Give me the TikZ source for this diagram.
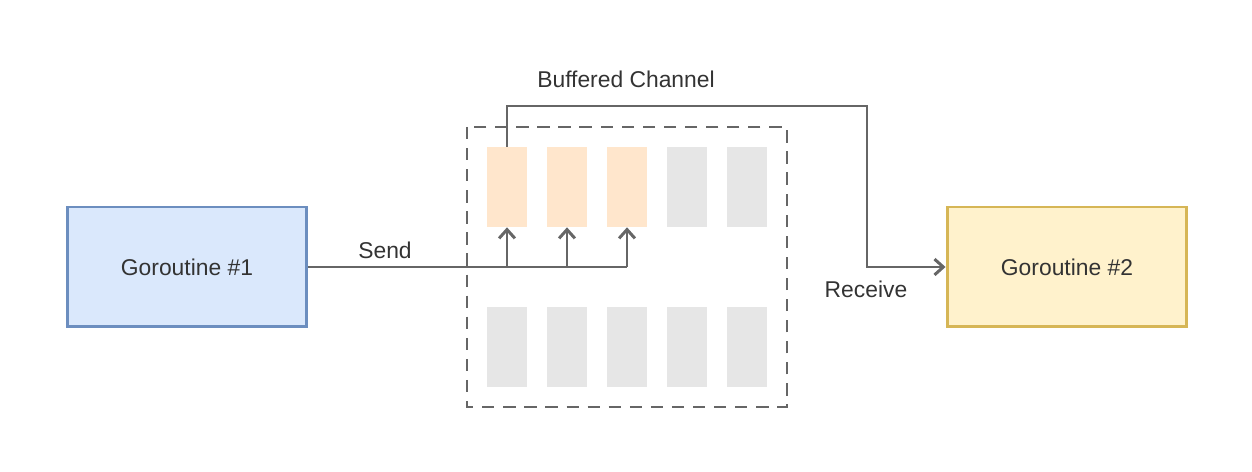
\documentclass[tikz,border=0pt]{standalone}
\usepackage{fontspec}
\setmainfont{Liberation Sans}
\usetikzlibrary{positioning,arrows.meta}
\definecolor{lineg}{HTML}{666666}
\definecolor{blueF}{HTML}{DAE8FC}
\definecolor{blueD}{HTML}{6C8EBF}
\definecolor{yelF}{HTML}{FFF2CC}
\definecolor{yelD}{HTML}{D6B656}
\definecolor{orgF}{HTML}{FFE6CC}
\definecolor{cellG}{HTML}{E6E6E6}
\begin{document}
\begin{tikzpicture}[x=0.02cm, y=-0.02cm,
      gor/.style={rectangle, line width=1.7pt, minimum width=4.8cm, minimum height=2.4cm, font=\fontsize{13}{15}\selectfont, text=black!80},
      cell/.style={rectangle, draw=none, minimum width=0.8cm, minimum height=1.6cm, inner sep=0pt},
      pfeil/.style={line width=1.7pt, draw=lineg, -{Straight Barb[length=5pt,width=9pt]}},
      lab/.style={font=\fontsize{13}{15}\selectfont, text=black!80}]
\useasboundingbox (0,0) rectangle (1252,472);

\node[gor, fill=blueF, draw=blueD] (g1) at (187,267) {Goroutine \#1};
\node[gor, fill=yelF, draw=yelD] (g2) at (1067,267) {Goroutine \#2};
\draw[lineg, line width=1.7pt, dash pattern=on 7pt off 5pt] (467,127) rectangle (787,407);

\foreach \i/\x in {1/507,2/567,3/627} {
  \node[cell, fill=orgF] (t\i) at (\x,187) {};
}
\foreach \i/\x in {4/687,5/747} {
  \node[cell, fill=cellG] (t\i) at (\x,187) {};
}
\foreach \i/\x in {1/507,2/567,3/627,4/687,5/747} {
  \node[cell, fill=cellG] (b\i) at (\x,347) {};
}

% send
\coordinate (s1) at (t1.south |- g1.east);
\coordinate (s2) at (t2.south |- g1.east);
\coordinate (s3) at (t3.south |- g1.east);
\draw[lineg, line width=1.7pt] (g1.east) -- (s3);
\draw[pfeil] (s1) -- (t1.south);
\draw[pfeil] (s2) -- (t2.south);
\draw[pfeil] (s3) -- (t3.south);
\node[lab] (send) at (385,250) {Send};

% receive
\coordinate (r1) at (507,106);
\coordinate (r2) at (867,106);
\draw[pfeil] (t1.north) -- (r1) -- (r2) -- (r2 |- g2.west) -- (g2.west);
\node[lab] (recv) at (866,289) {Receive};
\node[lab] (chan) at (626,79) {Buffered Channel};

\end{tikzpicture}
\end{document}
